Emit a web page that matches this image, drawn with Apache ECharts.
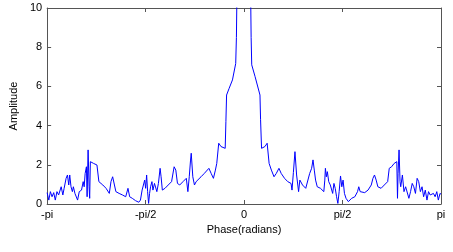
<!DOCTYPE html>
<html>
<head>
<meta charset="utf-8">
<script src="https://cdn.jsdelivr.net/npm/echarts@6/dist/echarts.min.js"></script>
<style>html,body{margin:0;padding:0;background:#fff}#c{width:453px;height:252px}</style>
</head>
<body>
<div id="c"></div>
<script>
// Phase expressed as a fraction of pi (axis runs from -pi to pi)
const phaseOverPi = [
 -1.000,-0.9915,-0.9835,-0.9751,-0.9666,-0.9586,-0.9501,-0.9416,-0.9337,-0.9287,
 -0.9202,-0.9137,-0.9037,-0.8968,-0.8903,-0.8853,-0.8788,-0.8718,-0.8668,-0.8589,
 -0.8504,-0.8454,-0.8369,-0.8254,-0.8170,-0.8120,-0.8070,-0.8005,-0.7970,-0.7920,
 -0.7870,-0.7840,-0.7805,-0.7641,-0.7471,-0.7372,-0.7172,-0.7007,-0.6843,-0.6758,
 -0.6673,-0.6594,-0.6509,-0.6344,-0.6175,-0.6010,-0.5895,-0.5810,-0.5676,-0.5511,
 -0.5347,-0.5262,-0.5177,-0.5112,-0.5047,-0.4998,-0.4948,-0.4898,-0.4848,-0.4798,
 -0.4748,-0.4678,-0.4628,-0.4549,-0.4429,-0.4349,-0.4264,-0.4214,-0.4150,-0.4015,
 -0.3850,-0.3681,-0.3551,-0.3466,-0.3382,-0.3267,-0.3102,-0.2933,-0.2853,-0.2783,
 -0.2718,-0.2683,-0.2603,-0.2519,-0.2434,-0.2354,-0.2185,-0.2020,-0.1786,-0.1671,
 -0.1556,-0.1456,-0.1387,-0.1287,-0.1172,-0.0958,-0.0923,-0.0888,-0.0758,-0.0589,
 -0.0424,-0.0389,0,
 0.0359,0.0389,0.0559,0.0808,0.0838,0.0888,0.1057,0.1172,0.1272,0.1387,
 0.1521,0.1636,0.1771,0.1885,0.2055,0.2219,0.2384,0.2434,0.2504,0.2584,
 0.2668,0.2768,0.2833,0.2968,0.3132,0.3217,0.3332,0.3431,0.3501,0.3566,
 0.3631,0.3716,0.3880,0.4050,0.4100,0.4130,0.4180,0.4229,0.4299,0.4379,
 0.4429,0.4499,0.4564,0.4628,0.4698,0.4763,0.4828,0.4898,0.4963,0.5027,
 0.5097,0.5177,0.5297,0.5461,0.5626,0.5761,0.5825,0.5895,0.5960,0.6125,
 0.6294,0.6374,0.6459,0.6544,0.6623,0.6708,0.6793,0.6958,0.7122,0.7292,
 0.7372,0.7491,0.7621,0.7756,0.7791,0.7820,0.7870,0.7920,0.7955,0.8040,
 0.8120,0.8204,0.8289,0.8369,0.8454,0.8539,0.8618,0.8703,0.8788,0.8868,
 0.8953,0.9037,0.9117,0.9202,0.9287,0.9367,0.9451,0.9536,0.9616,0.9701,
 0.9786,0.9865,0.9950,1.000
];
const amplitude = [
 0.58,0.20,0.63,0.37,0.58,0.20,0.63,0.46,0.37,0.88,
 0.46,0.80,1.31,1.48,0.97,1.48,0.88,0.63,0.88,0.54,
 0.46,0.20,0.63,0.71,1.14,0.88,1.56,1.90,0.37,2.76,
 0.88,0.29,2.16,2.07,1.99,1.14,0.97,0.80,0.54,1.14,
 1.39,1.31,0.63,0.54,0.46,0.37,0.80,0.37,0.29,0.17,
 0.09,0.20,0.71,0.63,1.22,0.80,1.48,0.63,0.03,0.54,
 0.88,1.14,0.71,1.05,0.63,1.05,1.82,1.39,0.71,0.80,
 0.97,1.14,1.90,1.73,1.05,0.97,1.14,1.31,0.63,1.39,
 2.24,2.59,1.39,0.97,1.14,1.22,1.39,1.56,1.82,1.56,
 1.31,1.73,2.07,3.10,2.93,2.84,4.20,5.56,5.90,6.33,
 7.17,8.50,40,
 8.50,7.10,6.50,5.56,4.30,2.84,2.93,3.10,2.07,1.73,
 1.39,1.56,1.82,1.56,1.31,1.14,1.05,0.71,1.60,2.67,
 1.48,0.63,1.22,0.97,0.80,0.71,1.56,1.82,2.25,1.73,
 1.22,0.88,0.80,0.63,1.22,1.82,1.39,1.65,1.14,0.97,
 0.88,0.54,1.05,0.80,0.37,0.03,0.63,1.43,0.88,1.22,
 0.54,0.29,0.12,0.29,0.37,0.63,0.88,0.63,0.54,0.58,
 0.71,0.80,0.97,1.31,1.48,1.22,0.88,0.80,0.97,1.14,
 1.82,1.90,2.07,2.16,0.29,1.56,2.76,1.14,0.88,1.48,
 0.63,0.88,0.80,0.29,0.63,1.05,0.88,0.54,1.31,1.14,
 0.63,0.88,0.37,0.71,0.20,0.63,0.46,0.54,0.54,0.37,
 0.63,0.20,0.54,0.50
];
const xTickValues = [-1, -0.5, 0, 0.5, 1];
const xTickLabels = ['-pi', '-pi/2', '0', 'pi/2', 'pi'];
const yTickValues = [0, 2, 4, 6, 8, 10];

const points = phaseOverPi.map((p, i) => [p, amplitude[i]]);
const font = 'Liberation Sans, Arial, sans-serif';
const axisLineStyle = { color: '#555', width: 1 };
const axisLine = { show: true, onZero: false, lineStyle: axisLineStyle };
const axisTick = { show: true, inside: true, length: 4, lineStyle: axisLineStyle };

const chart = echarts.init(document.getElementById('c'), null, { renderer: 'canvas' });
chart.setOption({
  animation: false,
  backgroundColor: '#fff',
  grid: { left: 40, right: 12, top: 8, bottom: 48 },
  xAxis: [
    {
      type: 'value', min: -1, max: 1, interval: 0.5, position: 'bottom',
      name: 'Phase(radians)', nameLocation: 'middle', nameGap: 20,
      nameTextStyle: { fontFamily: font, fontSize: 11, color: '#000' },
      axisLine: axisLine, axisTick: axisTick,
      axisLabel: {
        fontFamily: font, fontSize: 11, color: '#000', margin: 5,
        formatter: v => { const k = xTickValues.findIndex(t => Math.abs(t - v) < 1e-9); return k >= 0 ? xTickLabels[k] : ''; }
      },
      splitLine: { show: false }
    },
    {
      type: 'value', min: -1, max: 1, interval: 0.5, position: 'top',
      axisLine: axisLine, axisTick: axisTick,
      axisLabel: { show: false }, splitLine: { show: false }
    }
  ],
  yAxis: [
    {
      type: 'value', min: 0, max: 10, interval: 2, position: 'left',
      name: 'Amplitude', nameLocation: 'middle', nameGap: 27, nameRotate: 90,
      nameTextStyle: { fontFamily: font, fontSize: 11, color: '#000' },
      axisLine: axisLine, axisTick: axisTick,
      axisLabel: { fontFamily: font, fontSize: 11, color: '#000', margin: 5,
        formatter: v => yTickValues.includes(v) ? String(v) : '' },
      splitLine: { show: false }
    },
    {
      type: 'value', min: 0, max: 10, interval: 2, position: 'right',
      axisLine: axisLine, axisTick: axisTick,
      axisLabel: { show: false }, splitLine: { show: false }
    }
  ],
  series: [{
    type: 'line', xAxisIndex: 0, yAxisIndex: 0,
    data: points, showSymbol: false, clip: true,
    lineStyle: { color: '#0000ff', width: 1 },
    itemStyle: { color: '#0000ff' }
  }]
});
</script>
</body>
</html>
